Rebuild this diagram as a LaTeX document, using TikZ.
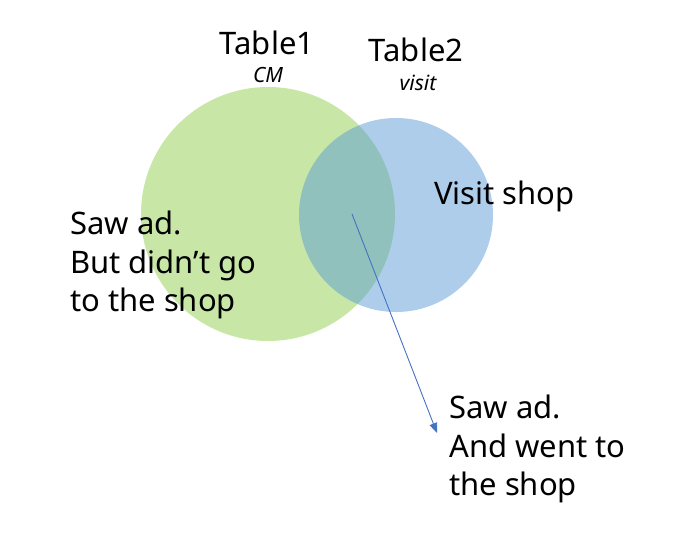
\documentclass[tikz,border=0pt]{standalone}
\usepackage{fontspec}
\setmainfont{Noto Sans}
\usetikzlibrary{arrows.meta}
\definecolor{cmgreen}{HTML}{92D050}
\definecolor{visitblue}{HTML}{5B9BD5}
\definecolor{arrowblue}{HTML}{4472C4}
\tikzset{
  setcircle/.style={fill opacity=0.5, draw=none},
  bigtext/.style={font=\fontsize{31}{38.5}\selectfont, inner sep=0pt, align=left},
  subtext/.style={font=\fontsize{21}{23}\selectfont\itshape, inner sep=0pt},
  pointer/.style={draw=arrowblue, line width=0.9pt, -{Triangle[length=10pt,width=8pt]}}
}
\begin{document}
\begin{tikzpicture}[x=1pt,y=-1pt]
\useasboundingbox (0,0) rectangle (676,534);
\fill[cmgreen, setcircle] (268,214) circle (127);
\fill[visitblue, setcircle] (396,215) circle (97);
\node[bigtext, anchor=base] (t1) at (267,55) {Table1};
\node[subtext, anchor=base] (t1s) at (268,83) {CM};
\node[bigtext, anchor=base] (t2) at (416,62) {Table2};
\node[subtext, anchor=base] (t2s) at (418,91) {visit};
\node[bigtext, anchor=base west] (vs) at (434,205) {Visit shop};
\node[bigtext, anchor=north west] (left) at (70,211) {Saw ad.\\But didn’t go\\to the shop};
\node[bigtext, anchor=north west] (right) at (449,395) {Saw ad.\\And went to\\the shop};
\coordinate (start) at (352,214);
\coordinate (tip) at (437,433);
\draw[pointer] (start) -- (tip);
\end{tikzpicture}
\end{document}
